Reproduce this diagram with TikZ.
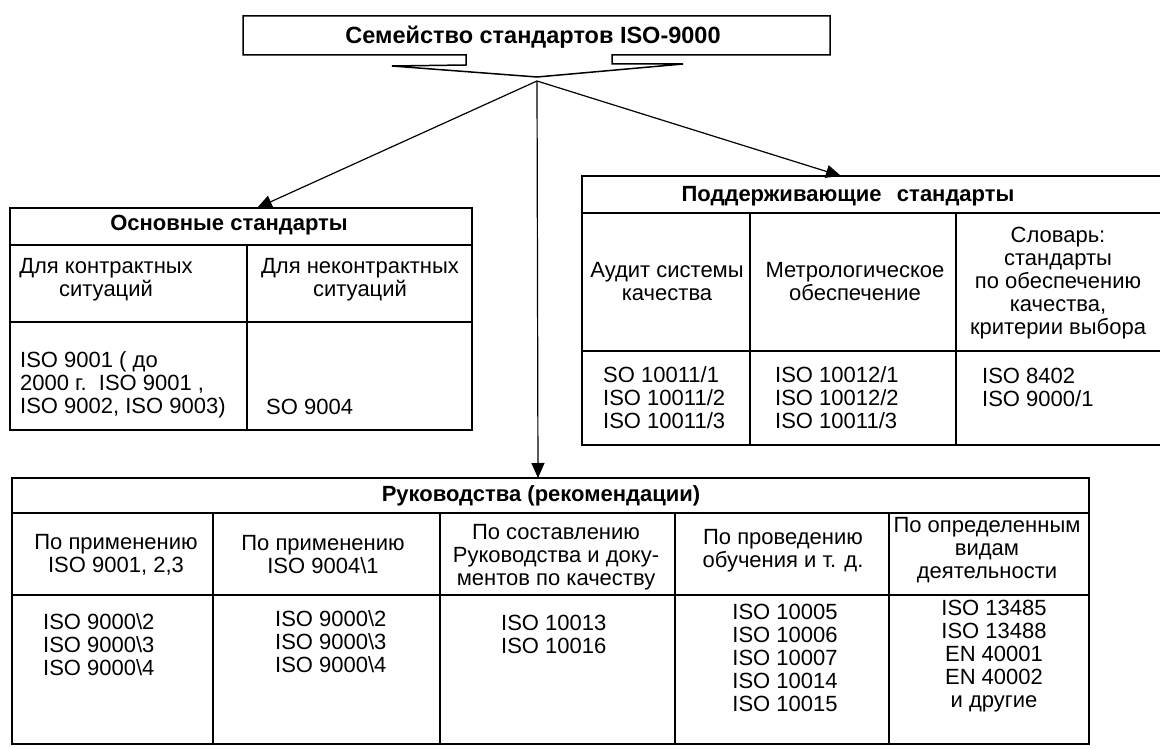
\documentclass[tikz,border=0pt]{standalone}
\usepackage{fontspec}
\setmainfont{Liberation Sans}
\usetikzlibrary{arrows.meta}
\begin{document}
\begin{tikzpicture}[x=1pt,y=-1pt,
  frame/.style={line width=1.5pt, line join=miter},
  conn/.style={line width=1.2pt, -{Triangle[length=15pt,width=13pt]}},
  txt/.style={font=\fontsize{22}{23}\selectfont, inner sep=0pt, align=center},
  ltxt/.style={font=\fontsize{22}{23}\selectfont, inner sep=0pt, align=left, anchor=west},
  head/.style={font=\bfseries\fontsize{22}{23}\selectfont, inner sep=0pt, align=center}]
\useasboundingbox (0,0) rectangle (1160,749);

% ---------- banner ----------
\draw[frame] (243,16) -- (830,16) -- (830,55) -- (612,55) -- (612,64) -- (683,64)
  -- (537,77) -- (392,66) -- (466,65) -- (466,55) -- (243,55) -- cycle;
\node[head, font=\bfseries\fontsize{23.5}{24}\selectfont] (banner) at (533,37) {Семейство стандартов ISO-9000};
\coordinate (hub) at (537,81);

% ---------- left table ----------
\draw[frame] (10,208) rectangle (472,430);
\draw[frame] (10,245) -- (472,245);
\draw[frame] (10,322) -- (472,322);
\draw[frame] (247,245) -- (247,430);
\coordinate (t1) at (257,208);
\node[head] (h1) at (229,225) {Основные стандарты};
\node[txt] (a1) at (106,280) {Для контрактных\\ситуаций};
\node[txt] (a2) at (360,280) {Для неконтрактных\\ситуаций};
\node[ltxt] (b1) at (20,385) {ISO 9001 ( до\\2000 г.\ \ ISO 9001 ,\\ISO 9002, ISO 9003)};
\node[ltxt] (b2) at (266,407) {SO 9004};

% ---------- right table ----------
\draw[frame] (1160,176) -- (582,176) -- (582,445) -- (1160,445);
\draw[frame] (582,213) -- (1160,213);
\draw[frame] (582,351) -- (1160,351);
\draw[frame] (750,213) -- (750,445);
\draw[frame] (956,213) -- (956,445);
\coordinate (t2) at (841,176);
\node[head] (h2) at (848,196) {Поддерживающие\hspace{0.7em}стандарты};
\node[txt] (c1) at (667,282) {Аудит системы\\качества};
\node[txt] (c2) at (855,282) {Метрологическое\\обеспечение};
\node[txt] (c3) at (1058,283) {Словарь:\\стандарты\\по обеспечению\\качества,\\критерии выбора};
\node[ltxt] (d1) at (603,398) {SO 10011/1\\ISO 10011/2\\ISO 10011/3};
\node[ltxt] (d2) at (775,398) {ISO 10012/1\\ISO 10012/2\\ISO 10011/3};
\node[ltxt] (d3) at (982,387) {ISO 8402\\ISO 9000/1};

% ---------- bottom table ----------
\draw[frame] (12,478) rectangle (1089,744);
\draw[frame] (12,513) -- (1089,513);
\draw[frame] (12,595) -- (1089,595);
\foreach \x in {213,440,675,889} \draw[frame] (\x,513) -- (\x,744);
\coordinate (t3) at (538,478);
\node[head] (h3) at (541,496) {Руководства (рекомендации)};
\node[txt] (e1) at (116,555) {По применению\\ISO 9001, 2,3};
\node[txt] (e2) at (323,555) {По применению\\ISO 9004\textbackslash 1};
\node[txt] (e3) at (556,557) {По составлению\\Руководства и доку-\\ментов по качеству};
\node[txt] (e4) at (783,551) {По проведению\\обучения и т. д.};
\node[txt] (e5) at (987,550) {По определенным\\видам\\деятельности};
\node[ltxt] (f1) at (43,645) {ISO 9000\textbackslash 2\\ISO 9000\textbackslash 3\\ISO 9000\textbackslash 4};
\node[ltxt] (f2) at (275,642) {ISO 9000\textbackslash 2\\ISO 9000\textbackslash 3\\ISO 9000\textbackslash 4};
\node[ltxt] (f3) at (501,634) {ISO 10013\\ISO 10016};
\node[txt] (f4) at (785,658) {ISO 10005\\ISO 10006\\ISO 10007\\ISO 10014\\ISO 10015};
\node[txt] (f5) at (994,656) {ISO 13485\\ISO 13488\\EN 40001\\EN 40002\\и другие};

% ---------- connectors ----------
\draw[conn] (hub) -- (t1);
\draw[conn] (hub) -- (t2);
\draw[conn] (hub) -- (t3);
\end{tikzpicture}
\end{document}
